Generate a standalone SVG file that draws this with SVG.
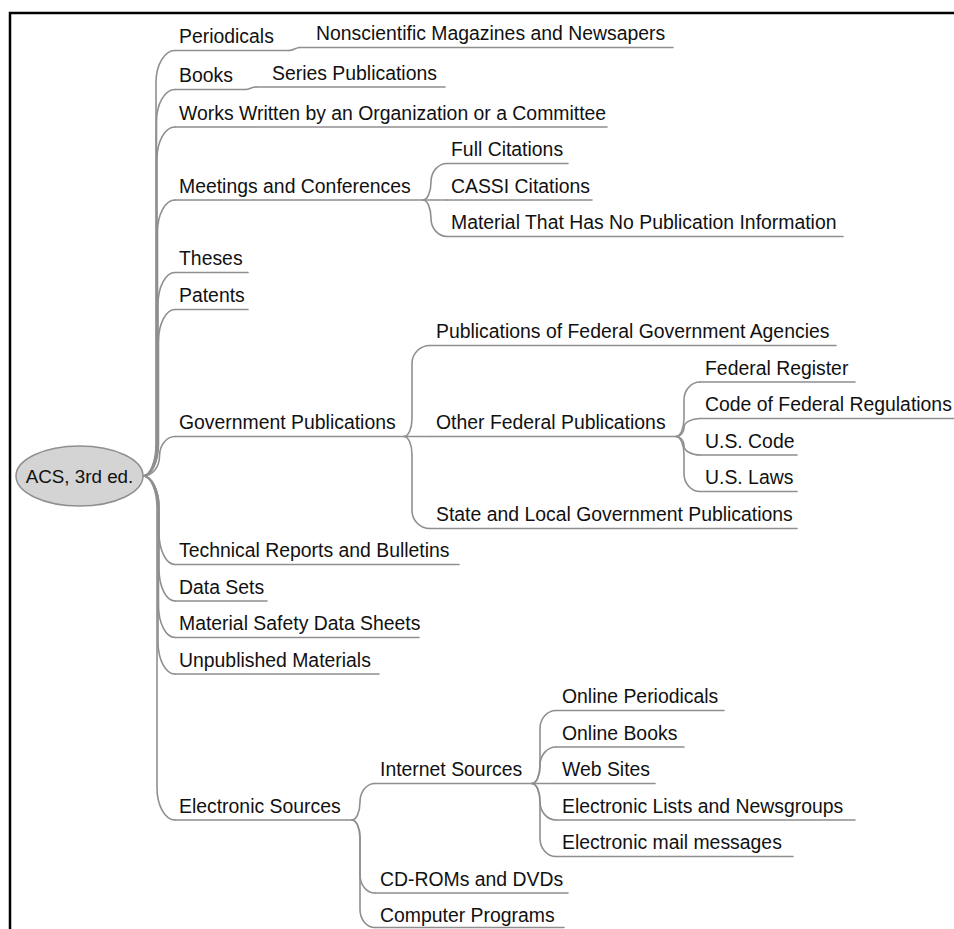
<svg xmlns="http://www.w3.org/2000/svg" width="954" height="929" viewBox="0 0 954 929">
<style>
.t{font-family:"Liberation Sans",Arial,sans-serif;font-size:19.4px;fill:#111}
.ul,.c{stroke:#8f8f8f;stroke-width:1.6;fill:none;stroke-linecap:round}
.root{fill:#d4d4d4;stroke:#8f8f8f;stroke-width:1.5}
.frame{stroke:#000;stroke-width:2.5;fill:none}
</style>
<rect width="954" height="929" fill="#fff"/>
<path class="frame" d="M10,929 V13 H954"/>
<g id="connectors">
<path class="c" d="M143,476 C150.2,476 156,461.7 156,444 L156,82.5 C156,64.8 164.5,50.5 175,50.5"/>
<path class="c" d="M143,476 C150.5,476 156.5,461.7 156.5,444 L156.5,121.5 C156.5,103.8 164.8,89.5 175,89.5"/>
<path class="c" d="M143,476 C150.7,476 157,461.7 157,444 L157,159 C157,141.3 165.1,127 175,127"/>
<path class="c" d="M143,476 C151,476 157.5,461.7 157.5,444 L157.5,232 C157.5,214.3 165.3,200 175,200"/>
<path class="c" d="M143,476 C151.3,476 158,461.7 158,444 L158,304.5 C158,286.8 165.6,272.5 175,272.5"/>
<path class="c" d="M143,476 C151.6,476 158.5,461.7 158.5,444 L158.5,341.5 C158.5,323.8 165.9,309.5 175,309.5"/>
<path class="c" d="M143,476 C152.1,476 159.5,467.2 159.5,456.25 C159.5,445.3 166.4,436.5 175,436.5"/>
<path class="c" d="M143,476 C151.8,476 159,490.3 159,508 L159,532.5 C159,550.2 166.2,564.5 175,564.5"/>
<path class="c" d="M143,476 C151.8,476 159,490.3 159,508 L159,569 C159,586.7 166.2,601 175,601"/>
<path class="c" d="M143,476 C151.6,476 158.5,490.3 158.5,508 L158.5,605.5 C158.5,623.2 165.9,637.5 175,637.5"/>
<path class="c" d="M143,476 C151.3,476 158,490.3 158,508 L158,642 C158,659.7 165.6,674 175,674"/>
<path class="c" d="M143,476 C150.7,476 157,490.3 157,508 L157,788 C157,805.7 165.1,820 175,820"/>
<path class="c" d="M289,50.5 C294,50.5 295,47.5 300,47.5"/>
<path class="c" d="M245,89.5 C250,89.5 251,87 256,87"/>
<path class="c" d="M423,200 C427.4,200 431,191.8 431,181.75 C431,171.7 438.2,163.5 447,163.5"/>
<path class="c" d="M423,200 H447"/>
<path class="c" d="M423,200 C427.4,200 431,208.2 431,218.25 C431,228.3 438.2,236.5 447,236.5"/>
<path class="c" d="M404,436.5 C408.4,436.5 412,428.4 412,418.5 L412,363.5 C412,353.6 420.1,345.5 430,345.5"/>
<path class="c" d="M404,436.5 H430"/>
<path class="c" d="M404,436.5 C408.4,436.5 412,444.6 412,454.5 L412,510.5 C412,520.4 420.1,528.5 430,528.5"/>
<path class="c" d="M676,436.5 C680.4,436.5 684,428.4 684,418.5 L684,400 C684,390.1 691.2,382 700,382"/>
<path class="c" d="M676,436.5 C680.4,436.5 684,432.5 684,427.5 C684,422.5 691.2,418.5 700,418.5"/>
<path class="c" d="M676,436.5 C680.4,436.5 684,440.6 684,445.75 C684,450.9 691.2,455 700,455"/>
<path class="c" d="M676,436.5 C680.4,436.5 684,444.6 684,454.5 L684,473.5 C684,483.4 691.2,491.5 700,491.5"/>
<path class="c" d="M352,820 C356.4,820 360,811.8 360,801.75 C360,791.7 366.7,783.5 375,783.5"/>
<path class="c" d="M352,820 C356.4,820 360,828.1 360,838 L360,875 C360,884.9 366.7,893 375,893"/>
<path class="c" d="M352,820 C356.4,820 360,828.1 360,838 L360,909.5 C360,919.4 366.7,927.5 375,927.5"/>
<path class="c" d="M532,783.5 C536.4,783.5 540,775.4 540,765.5 L540,728.5 C540,718.6 547.2,710.5 556,710.5"/>
<path class="c" d="M532,783.5 C536.4,783.5 540,775.3 540,765.25 C540,755.2 547.2,747 556,747"/>
<path class="c" d="M532,783.5 H556"/>
<path class="c" d="M532,783.5 C536.4,783.5 540,791.7 540,801.75 C540,811.8 547.2,820 556,820"/>
<path class="c" d="M532,783.5 C536.4,783.5 540,791.6 540,801.5 L540,838.5 C540,848.4 547.2,856.5 556,856.5"/>
</g>
<g id="root"><ellipse class="root" cx="79.5" cy="476" rx="63.5" ry="30"/><text x="79.5" y="483" text-anchor="middle" class="t" style="font-size:18.8px">ACS, 3rd ed.</text></g>
<g id="periodicals"><path class="ul" d="M175,50.5 H289"/><text class="t" x="179" y="43.3">Periodicals</text></g>
<g id="nonscientific"><path class="ul" d="M300,47.5 H673"/><text class="t" x="316" y="40.2">Nonscientific Magazines and Newsapers</text></g>
<g id="books"><path class="ul" d="M175,89.5 H245"/><text class="t" x="179" y="82.2">Books</text></g>
<g id="series"><path class="ul" d="M256,87 H445"/><text class="t" x="272" y="79.8">Series Publications</text></g>
<g id="works"><path class="ul" d="M175,127 H607"/><text class="t" x="179" y="119.7">Works Written by an Organization or a Committee</text></g>
<g id="meetings"><path class="ul" d="M175,200 H423"/><text class="t" x="179" y="192.7">Meetings and Conferences</text></g>
<g id="full"><path class="ul" d="M447,163.5 H568"/><text class="t" x="451" y="156.2">Full Citations</text></g>
<g id="cassi"><path class="ul" d="M447,200 H592"/><text class="t" x="451" y="192.7">CASSI Citations</text></g>
<g id="nopub"><path class="ul" d="M447,236.5 H843"/><text class="t" x="451" y="229.2">Material That Has No Publication Information</text></g>
<g id="theses"><path class="ul" d="M175,272.5 H248"/><text class="t" x="179" y="265.2">Theses</text></g>
<g id="patents"><path class="ul" d="M175,309.5 H248"/><text class="t" x="179" y="302.2">Patents</text></g>
<g id="gov"><path class="ul" d="M175,436.5 H404"/><text class="t" x="179" y="429.2">Government Publications</text></g>
<g id="pubfed"><path class="ul" d="M430,345.5 H836"/><text class="t" x="436" y="338.2">Publications of Federal Government Agencies</text></g>
<g id="otherfed"><path class="ul" d="M430,436.5 H676"/><text class="t" x="436" y="429.2">Other Federal Publications</text></g>
<g id="state"><path class="ul" d="M430,528.5 H797"/><text class="t" x="436" y="521.2">State and Local Government Publications</text></g>
<g id="fedreg"><path class="ul" d="M700,382 H855"/><text class="t" x="705" y="374.7">Federal Register</text></g>
<g id="cfr"><path class="ul" d="M700,418.5 H954"/><text class="t" x="705" y="411.2">Code of Federal Regulations</text></g>
<g id="uscode"><path class="ul" d="M700,455 H797"/><text class="t" x="705" y="447.7">U.S. Code</text></g>
<g id="uslaws"><path class="ul" d="M700,491.5 H797"/><text class="t" x="705" y="484.2">U.S. Laws</text></g>
<g id="technical"><path class="ul" d="M175,564.5 H459"/><text class="t" x="179" y="557.2">Technical Reports and Bulletins</text></g>
<g id="datasets"><path class="ul" d="M175,601 H267"/><text class="t" x="179" y="593.7">Data Sets</text></g>
<g id="msds"><path class="ul" d="M175,637.5 H419"/><text class="t" x="179" y="630.2">Material Safety Data Sheets</text></g>
<g id="unpub"><path class="ul" d="M175,674 H379"/><text class="t" x="179" y="666.7">Unpublished Materials</text></g>
<g id="electronic"><path class="ul" d="M175,820 H352"/><text class="t" x="179" y="812.7">Electronic Sources</text></g>
<g id="internet"><path class="ul" d="M375,783.5 H532"/><text class="t" x="380" y="776.2">Internet Sources</text></g>
<g id="cdrom"><path class="ul" d="M375,893 H568"/><text class="t" x="380" y="885.7">CD-ROMs and DVDs</text></g>
<g id="programs"><path class="ul" d="M375,927.5 H564"/><text class="t" x="380" y="922">Computer Programs</text></g>
<g id="onlineper"><path class="ul" d="M556,710.5 H724"/><text class="t" x="562" y="703.2">Online Periodicals</text></g>
<g id="onlinebooks"><path class="ul" d="M556,747 H684"/><text class="t" x="562" y="739.7">Online Books</text></g>
<g id="websites"><path class="ul" d="M556,783.5 H655"/><text class="t" x="562" y="776.2">Web Sites</text></g>
<g id="lists"><path class="ul" d="M556,820 H855"/><text class="t" x="562" y="812.7">Electronic Lists and Newsgroups</text></g>
<g id="email"><path class="ul" d="M556,856.5 H793"/><text class="t" x="562" y="849.2">Electronic mail messages</text></g>
</svg>
